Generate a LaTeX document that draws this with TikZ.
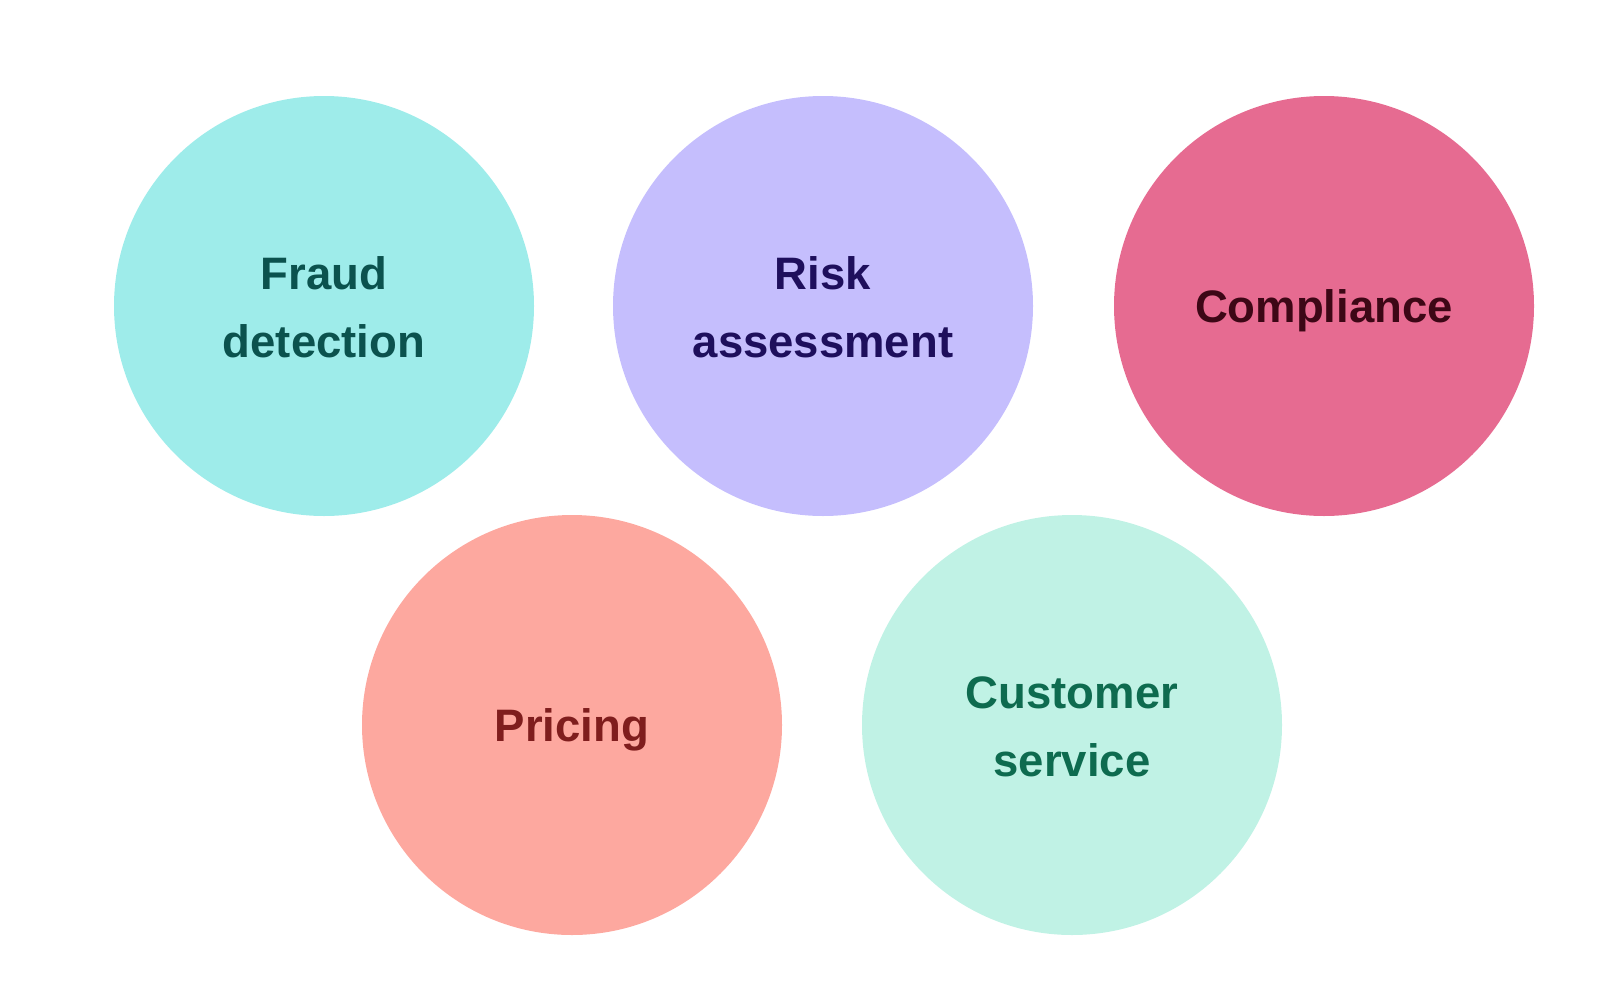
\documentclass[tikz,border=0pt]{standalone}
\usepackage{fontspec}
\setmainfont{Liberation Sans}
\definecolor{c1}{HTML}{9EECEA}\definecolor{t1}{HTML}{0B524E}
\definecolor{c2}{HTML}{C5BEFD}\definecolor{t2}{HTML}{1E0F5C}
\definecolor{c3}{HTML}{E66B91}\definecolor{t3}{HTML}{3D0716}
\definecolor{c4}{HTML}{FDA89F}\definecolor{t4}{HTML}{7F1D1D}
\definecolor{c5}{HTML}{C0F2E5}\definecolor{t5}{HTML}{0E6B4F}
\begin{document}
\begin{tikzpicture}[x=1pt,y=-1pt,
  bubble/.style={circle,minimum size=420pt,inner sep=0pt},
  lbl/.style={align=center,inner sep=0pt,yshift=-4.5pt,
    font=\fontsize{45.5}{68}\selectfont\bfseries},
  lbltwo/.style={lbl,yshift=3pt}]
\useasboundingbox (0,0) rectangle (1624,1004);
\node[bubble,fill=c1] (fraud) at (324,306) {};
\node[bubble,fill=c2] (risk) at (823,306) {};
\node[bubble,fill=c3] (comp) at (1324,306) {};
\node[bubble,fill=c4] (price) at (572,725) {};
\node[bubble,fill=c5] (cust) at (1072,725) {};
\node[lbltwo,text=t1] (fraudt) at (fraud.center) {Fraud\\detection};
\node[lbltwo,text=t2] (riskt) at (risk.center) {Risk\\assessment};
\node[lbl,text=t3] (compt) at (comp.center) {Compliance};
\node[lbl,text=t4] (pricet) at (price.center) {Pricing};
\node[lbltwo,text=t5] (custt) at (cust.center) {Customer\\service};
\end{tikzpicture}
\end{document}
